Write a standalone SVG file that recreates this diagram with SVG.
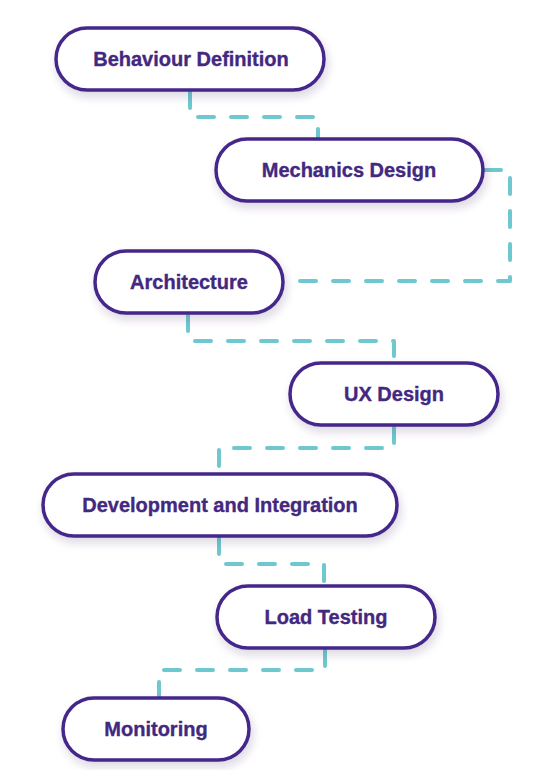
<svg xmlns="http://www.w3.org/2000/svg" width="540" height="770" viewBox="0 0 540 770">
<defs>
<style>
.pill{fill:#ffffff;stroke:#45288a;stroke-width:3.5;filter:url(#sh)}
.lbl{font-family:"Liberation Sans",Arial,sans-serif;font-weight:700;font-size:20px;fill:#43287f;stroke:#43287f;stroke-width:0.35;text-anchor:middle}
.con{fill:none;stroke:#6fc8cf;stroke-width:4;stroke-dasharray:16 17;stroke-linecap:round;stroke-linejoin:round}
</style>
<filter id="sh" x="-20%" y="-40%" width="140%" height="190%">
<feDropShadow dx="2" dy="5" stdDeviation="4" flood-color="#3a2a60" flood-opacity="0.18"/>
</filter>
</defs>
<rect width="540" height="770" fill="#ffffff"/>
<g id="connectors">
<path class="con" d="M190 92 V117 H318 V139"/>
<path class="con" d="M485 170 H510 V281 H285"/>
<path class="con" d="M188 315 V341 H394 V363"/>
<path class="con" d="M394 427 V448 H219 V474"/>
<path class="con" d="M219 538 V564 H324 V586"/>
<path class="con" d="M325 650 V670 H159 V698"/>
</g>
<g id="n1"><rect class="pill" x="56" y="28" width="268" height="62" rx="31"/><text class="lbl" x="191" y="66">Behaviour Definition</text></g>
<g id="n2"><rect class="pill" x="216" y="139" width="267" height="62" rx="31"/><text class="lbl" x="349" y="177">Mechanics Design</text></g>
<g id="n3"><rect class="pill" x="95" y="251" width="188" height="62" rx="31"/><text class="lbl" x="189" y="289">Architecture</text></g>
<g id="n4"><rect class="pill" x="290" y="363" width="208" height="62" rx="31"/><text class="lbl" x="394" y="401">UX Design</text></g>
<g id="n5"><rect class="pill" x="43" y="474" width="354" height="62" rx="31"/><text class="lbl" x="220" y="512">Development and Integration</text></g>
<g id="n6"><rect class="pill" x="217" y="586" width="218" height="62" rx="31"/><text class="lbl" x="326" y="624">Load Testing</text></g>
<g id="n7"><rect class="pill" x="63" y="698" width="186" height="62" rx="31"/><text class="lbl" x="156" y="736">Monitoring</text></g>
</svg>
